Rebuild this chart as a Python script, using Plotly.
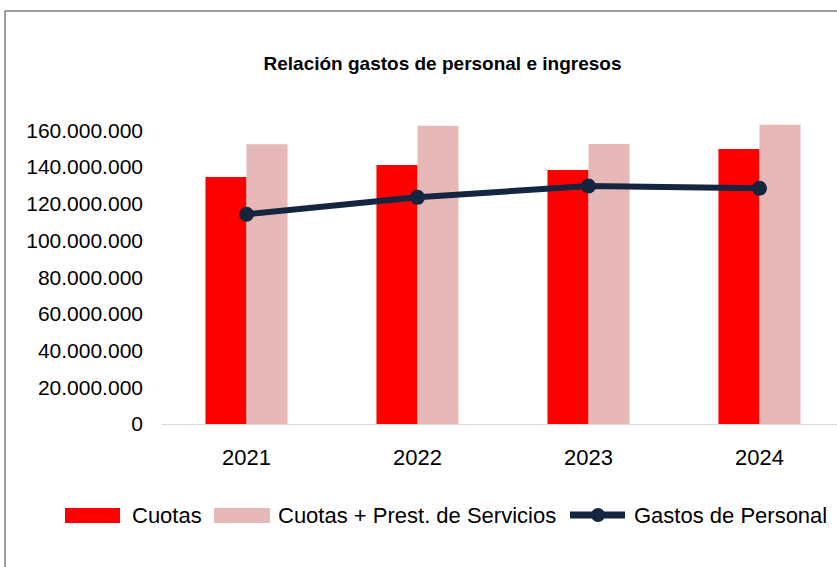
import plotly.graph_objects as go

years = ["2021", "2022", "2023", "2024"]
cuotas = [134.6e6, 141.1e6, 138.4e6, 149.8e6]
cuotas_prest = [152.4e6, 162.5e6, 152.5e6, 163.0e6]
gastos_personal = [114.3e6, 123.5e6, 129.7e6, 128.4e6]
y_ticks = [0, 20e6, 40e6, 60e6, 80e6, 100e6, 120e6, 140e6, 160e6]
y_tick_labels = ["0", "20.000.000", "40.000.000", "60.000.000", "80.000.000",
                 "100.000.000", "120.000.000", "140.000.000", "160.000.000"]
legend_names = ["Cuotas", "Cuotas + Prest. de Servicios", "Gastos de Personal"]

RED = "#FF0000"
PINK = "#E6B8B7"
NAVY = "#14253F"
FONT = "Liberation Sans, Arial, sans-serif"

W, H = 837, 567
L, R, T, B = 161, 0, 112, 143
PW, PH = W - L - R, H - T - B


def px(x):
    return (x - L) / PW


def py(y):
    return (H - B - y) / PH


fig = go.Figure()
fig.add_trace(go.Bar(x=years, y=cuotas, name=legend_names[0], marker_color=RED,
                     marker_line_width=0))
fig.add_trace(go.Bar(x=years, y=cuotas_prest, name=legend_names[1], marker_color=PINK,
                     marker_line_width=0))
fig.add_trace(go.Scatter(x=years, y=gastos_personal, name=legend_names[2],
                         mode="lines+markers",
                         line=dict(color=NAVY, width=6),
                         marker=dict(color=NAVY, size=15)))

shapes = []
annotations = []
# chart frame (cropped at right/bottom)
shapes.append(dict(type="rect", xref="paper", yref="paper",
                   x0=px(5), x1=px(2000), y0=py(2000), y1=py(11),
                   line=dict(color="#404040", width=1), fillcolor="rgba(0,0,0,0)",
                   layer="below"))
# manual legend
ly = 515
shapes.append(dict(type="rect", xref="paper", yref="paper",
                   x0=px(65), x1=px(120), y0=py(523), y1=py(508),
                   line=dict(width=0), fillcolor=RED))
shapes.append(dict(type="rect", xref="paper", yref="paper",
                   x0=px(214), x1=px(270), y0=py(523), y1=py(508),
                   line=dict(width=0), fillcolor=PINK))
shapes.append(dict(type="line", xref="paper", yref="paper",
                   x0=px(570), x1=px(625), y0=py(ly), y1=py(ly),
                   line=dict(color=NAVY, width=7)))
shapes.append(dict(type="circle", xref="paper", yref="paper",
                   x0=px(591), x1=px(605), y0=py(ly + 7), y1=py(ly - 7),
                   line=dict(width=0), fillcolor=NAVY))
for name, x in zip(legend_names, [130, 276, 632]):
    annotations.append(dict(text=name, xref="paper", yref="paper",
                            x=px(x), y=py(ly), xanchor="left", yanchor="middle",
                            showarrow=False, font=dict(family=FONT, size=22, color="#000000")))

fig.update_layout(
    width=W, height=H,
    margin=dict(l=L, r=R, t=T, b=B, autoexpand=False),
    paper_bgcolor="white", plot_bgcolor="white",
    barmode="group", bargap=0.52, bargroupgap=0,
    showlegend=False,
    title=dict(text="<b>Relación gastos de personal e ingresos</b>",
               x=442.5 / W, xref="container", xanchor="center",
               y=1 - 63 / H, yref="container", yanchor="middle",
               font=dict(family=FONT, size=19, color="#000000")),
    xaxis=dict(type="category", range=[-0.5, -0.5 + PW / 171.0],
               showline=True, linecolor="#D9D9D9", linewidth=1,
               showgrid=False, zeroline=False, ticks="",
               tickfont=dict(family=FONT, size=22, color="#000000"),
               ticklabelstandoff=14),
    yaxis=dict(range=[0, 170e6], tickvals=y_ticks, ticktext=y_tick_labels,
               showgrid=False, zeroline=False, showline=False, ticks="",
               tickfont=dict(family=FONT, size=21, color="#000000"),
               ticklabelstandoff=17),
    shapes=shapes,
    annotations=annotations,
)

fig.write_html("out.html", config={"displayModeBar": False},
               post_script="document.body.style.margin='0';document.body.style.overflow='hidden';")
